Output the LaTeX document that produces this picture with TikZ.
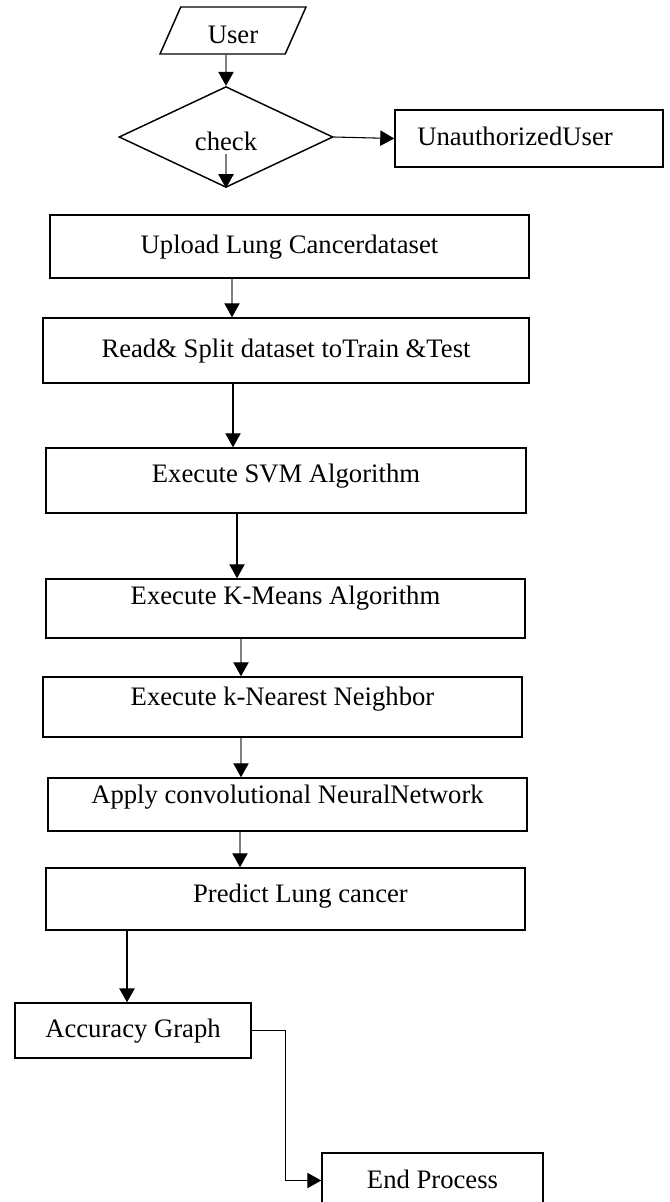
\documentclass[tikz,border=0pt]{standalone}
\usepackage{fontspec}
\setmainfont{Liberation Serif}
\usetikzlibrary{shapes.geometric,arrows.meta}

\begin{document}
\begin{tikzpicture}[x=0.75pt, y=-0.75pt,
  box/.style={draw, line width=1.1pt, inner sep=0pt, text height=14pt, text depth=4pt,
    font=\fontsize{20}{24}\selectfont},
  garr/.style={draw=gray, line width=0.8pt, -{Triangle[length=10.5pt,width=11.5pt,color=black]}},
  barr/.style={draw=black, line width=0.8pt, -{Triangle[length=10.5pt,width=11.5pt]}}]
  \useasboundingbox (0,0) rectangle (670,1202);
  \clip (0,0) rectangle (670,1202);

  % login part
  \node[box, trapezium, trapezium left angle=60, trapezium right angle=120,
    trapezium stretches body, minimum width=109.5pt, minimum height=35.25pt, text height=23pt] (user) at (233,30.5) {User};
  \node[box, diamond, minimum width=160.5pt, minimum height=71.25pt, text height=25pt] (check) at (226,137) {check};
  \node[box, minimum width=201pt, minimum height=42.75pt] (unauth) at (529,138.5) {UnauthorizedUser\hspace*{21pt}};

  % main steps
  \node[box, minimum width=359.25pt, minimum height=47.25pt] (upload) at (289.5,246.5) {Upload Lung Cancerdataset};
  \node[box, minimum width=364.5pt, minimum height=48.75pt] (read) at (286,350.5) {Read\& Split dataset toTrain \&Test};
  \node[box, minimum width=360pt, minimum height=48.75pt, text depth=11.5pt] (svm) at (286,480.5) {Execute SVM Algorithm};
  \node[box, minimum width=359.25pt, minimum height=44.25pt, text depth=20.5pt] (kmeans) at (285.5,608.5) {Execute K-Means Algorithm};
  \node[box, minimum width=359.25pt, minimum height=45pt, text depth=16pt] (knn) at (282.5,707) {Execute k-Nearest Neighbor};
  \node[box, minimum width=359.25pt, minimum height=39.75pt, text depth=15.25pt] (cnn) at (287.5,804.5) {Apply convolutional NeuralNetwork};
  \node[box, minimum width=359.25pt, minimum height=46.5pt, text depth=8.5pt] (predict) at (285.5,899) {\hspace*{22.5pt}Predict Lung cancer};
  \node[box, minimum width=177pt, minimum height=41.25pt] (acc) at (133,1030.5) {Accuracy Graph};
  \node[box, minimum width=165.75pt, minimum height=41.25pt, text height=16pt] (endp) at (432.5,1180.5) {End Process};

  % arrows
  \draw[garr] (user.south -| check.north) -- (check.north);
  \coordinate (chkin) at (226,154);
  \draw[garr] (chkin) -- (check.south);
  \draw[barr] (check.east) -- (unauth.west);
  \foreach \a/\b/\x/\s in {upload/read/232/garr, read/svm/233/barr, svm/kmeans/237/barr,
      kmeans/knn/241/garr, knn/cnn/241/garr, cnn/predict/240/garr}{
    \coordinate (ax) at (\x,0);
    \draw[\s] (\a.south -| ax) -- (\b.north -| ax);
  }
  \coordinate (ax) at (127,0);
  \draw[barr, line width=1.5pt] (predict.south -| ax) -- (acc.north -| ax);
  \draw[barr] (acc.east) -- ++(34,0) |- (endp.west);
\end{tikzpicture}
\end{document}
